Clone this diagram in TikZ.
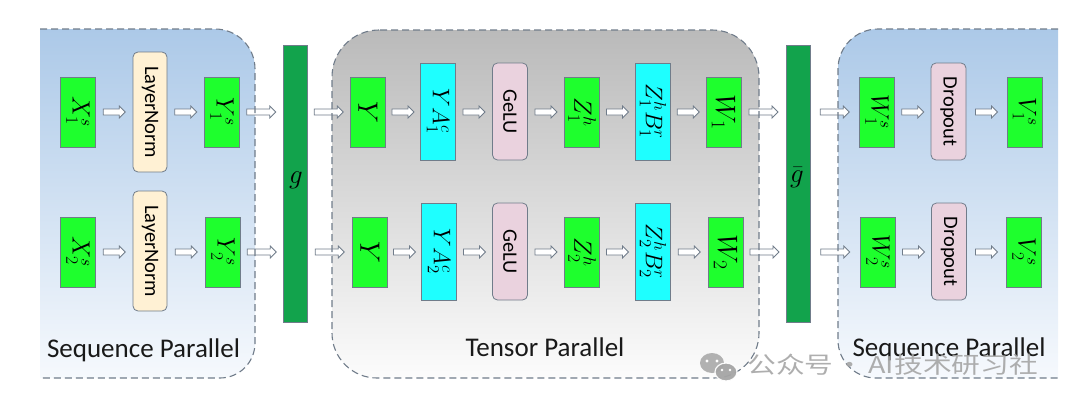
\RequirePackage{fix-cm}
\documentclass[tikz,border=0pt]{standalone}
\usepackage{graphicx}
\usepackage{fontspec}
\setmainfont{Carlito}
\newfontfamily\cjk{Noto Sans CJK SC}
\usetikzlibrary{calc}
\definecolor{boxgreen}{RGB}{30,255,45}
\definecolor{boxcyan}{RGB}{30,255,255}
\definecolor{boxpink}{RGB}{234,210,222}
\definecolor{boxcream}{RGB}{255,241,212}
\definecolor{bardark}{RGB}{18,163,76}
\definecolor{edge}{RGB}{112,124,138}
\definecolor{panelblue}{RGB}{172,201,232}
\definecolor{panelbluelight}{RGB}{246,249,253}
\definecolor{panelgray}{RGB}{186,186,186}
\definecolor{panelgraylight}{RGB}{252,252,252}
\definecolor{wmgray}{RGB}{165,165,165}
\newcommand\harrow[4]{%
  \coordinate (m) at ($(#1.east |- #3)!0.5!(#2.west |- #3)$);
  \draw[arrowline] ([shift={(-#4,3)}]m) -- ([shift={(#4-6,3)}]m) -- ([shift={(#4-6,6)}]m)
    -- ([shift={(#4,0)}]m) -- ([shift={(#4-6,-6)}]m) -- ([shift={(#4-6,-3)}]m)
    -- ([shift={(-#4,-3)}]m) -- cycle;}
\begin{document}
\begin{tikzpicture}[x=1pt,y=1pt,
  base/.style={draw=edge, line width=0.8pt, inner sep=0pt},
  gbox/.style={base, fill=boxgreen, minimum width=35pt, minimum height=70pt, font=\fontsize{25}{29}\selectfont},
  cbox/.style={base, fill=boxcyan, minimum width=35pt, minimum height=97pt, font=\fontsize{24}{28}\selectfont},
  lnbox/.style={base, fill=boxcream, rounded corners=5pt, minimum width=34pt, minimum height=120pt, font=\fontsize{20.5}{24}\selectfont},
  pbox/.style={base, fill=boxpink, rounded corners=5pt, minimum width=35pt, minimum height=97pt, font=\fontsize{20.5}{24}\selectfont},
  bar/.style={base, fill=bardark, minimum width=24pt, minimum height=277pt},
  barlabel/.style={font=\fontsize{27}{30}\selectfont, inner sep=0pt},
  big/.style={font=\fontsize{28}{32}\selectfont},
  arrowline/.style={draw=edge, line width=0.8pt, fill=white, line join=miter},
  border/.style={draw=edge, line width=1.1pt, dash pattern=on 7pt off 4pt},
  plabel/.style={font=\fontsize{27}{32}\selectfont, anchor=base, text=black!90},
]
\useasboundingbox (0,0) rectangle (1080,-415);

% panels (fills)
\shade[top color=panelblue, bottom color=panelbluelight]
  (40,-29) -- (215,-29) arc[start angle=90, end angle=0, radius=40] -- (255,-343)
  arc[start angle=0, end angle=-90, radius=35] -- (40,-378) -- cycle;
\shade[top color=panelgray, bottom color=panelgraylight]
  (380,-30) -- (712,-30) arc[start angle=90, end angle=0, radius=47] -- (759,-333)
  arc[start angle=0, end angle=-90, radius=45] -- (377,-378)
  arc[start angle=270, end angle=180, radius=45] -- (332,-77)
  arc[start angle=180, end angle=90, radius=47] -- cycle;
\shade[top color=panelblue, bottom color=panelbluelight]
  (1058,-29) -- (878,-29) arc[start angle=90, end angle=180, radius=40] -- (838,-340)
  arc[start angle=180, end angle=270, radius=38] -- (1058,-378) -- cycle;

% bars
\node[bar] (g) at (295,-183.5) {};
\node[bar] (gb) at (798,-183.5) {};
\node[barlabel] (gl) at (296,-180) {$g$};
\node[barlabel] (gbl) at (797,-178) {$\bar{g}$};

% left panel
\node[gbox] (X1) at (78,-112) {\rotatebox{-90}{$X_1^s$}};
\node[lnbox] (LN1) at (150,-112) {\rotatebox{-90}{LayerNorm}};
\node[gbox] (Ys1) at (222,-112) {\rotatebox{-90}{$Y_1^s$}};
\node[gbox] (X2) at (78,-252) {\rotatebox{-90}{$X_2^s$}};
\node[lnbox] (LN2) at (150,-251) {\rotatebox{-90}{LayerNorm}};
\node[gbox] (Ys2) at (223,-252) {\rotatebox{-90}{$Y_2^s$}};

% middle panel
\node[gbox, big] (Ym1) at (368,-112) {\rotatebox{-90}{$Y$}};
\node[cbox] (YA1) at (438,-111.5) {\rotatebox{-90}{$YA_1^c$}};
\node[pbox] (Ge1) at (510,-111.5) {\rotatebox{-90}{GeLU}};
\node[gbox] (Z1) at (582,-112) {\rotatebox{-90}{$Z_1^h$}};
\node[cbox] (ZB1) at (653,-111.5) {\rotatebox{-90}{$Z_1^hB_1^r$}};
\node[gbox, big] (W1) at (723.5,-112) {\rotatebox{-90}{$W_1$}};
\node[gbox, big] (Ym2) at (370,-252) {\rotatebox{-90}{$Y$}};
\node[cbox] (YA2) at (439,-251.5) {\rotatebox{-90}{$YA_2^c$}};
\node[pbox] (Ge2) at (510,-251.5) {\rotatebox{-90}{GeLU}};
\node[gbox] (Z2) at (582,-252) {\rotatebox{-90}{$Z_2^h$}};
\node[cbox] (ZB2) at (653,-251.5) {\rotatebox{-90}{$Z_2^hB_2^r$}};
\node[gbox, big] (W2) at (725.5,-252) {\rotatebox{-90}{$W_2$}};

% right panel
\node[gbox] (Ws1) at (877,-112) {\rotatebox{-90}{$W_1^s$}};
\node[pbox] (D1) at (948.5,-111.5) {\rotatebox{-90}{Dropout}};
\node[gbox] (Vs1) at (1024.5,-112) {\rotatebox{-90}{$V_1^s$}};
\node[gbox] (Ws2) at (878,-252) {\rotatebox{-90}{$W_2^s$}};
\node[pbox] (D2) at (949,-251.5) {\rotatebox{-90}{Dropout}};
\node[gbox] (Vs2) at (1024,-252) {\rotatebox{-90}{$V_2^s$}};

% arrows row 1
\harrow{X1}{LN1}{X1}{11}
\harrow{LN1}{Ys1}{Ys1}{11}
\harrow{Ys1}{g}{Ys1}{14.5}
\harrow{g}{Ym1}{Ym1}{14.5}
\harrow{Ym1}{YA1}{Ym1}{11}
\harrow{YA1}{Ge1}{Ym1}{11}
\harrow{Ge1}{Z1}{Z1}{11}
\harrow{Z1}{ZB1}{Z1}{11}
\harrow{ZB1}{W1}{W1}{11}
\harrow{W1}{gb}{W1}{14.5}
\harrow{gb}{Ws1}{Ws1}{14.5}
\harrow{Ws1}{D1}{Ws1}{11}
\harrow{D1}{Vs1}{Vs1}{11}
% arrows row 2
\harrow{X2}{LN2}{X2}{11}
\harrow{LN2}{Ys2}{Ys2}{11}
\harrow{Ys2}{g}{Ys2}{14.5}
\harrow{g}{Ym2}{Ym2}{14.5}
\harrow{Ym2}{YA2}{Ym2}{11}
\harrow{YA2}{Ge2}{Ym2}{11}
\harrow{Ge2}{Z2}{Z2}{11}
\harrow{Z2}{ZB2}{Z2}{11}
\harrow{ZB2}{W2}{W2}{11}
\harrow{W2}{gb}{W2}{14.5}
\harrow{gb}{Ws2}{Ws2}{14.5}
\harrow{Ws2}{D2}{Ws2}{11}
\harrow{D2}{Vs2}{Vs2}{11}

% panel borders
\draw[border] (40,-29) -- (215,-29) arc[start angle=90, end angle=0, radius=40] -- (255,-343)
  arc[start angle=0, end angle=-90, radius=35] -- (40,-378);
\draw[border] (380,-30) -- (712,-30) arc[start angle=90, end angle=0, radius=47] -- (759,-333)
  arc[start angle=0, end angle=-90, radius=45] -- (377,-378)
  arc[start angle=270, end angle=180, radius=45] -- (332,-77)
  arc[start angle=180, end angle=90, radius=47] -- cycle;
\draw[border] (1058,-29) -- (878,-29) arc[start angle=90, end angle=180, radius=40] -- (838,-340)
  arc[start angle=180, end angle=270, radius=38] -- (1058,-378);

% panel labels
\node[plabel] (sp1) at (143.5,-357) {Sequence Parallel};
\node[plabel] (tp) at (545,-356) {Tensor Parallel};
\node[plabel] (sp2) at (949,-356) {Sequence Parallel};

% watermark
\fill[wmgray, opacity=0.85] (712,-363) ellipse[x radius=12, y radius=10];
\fill[white] (707,-361) circle[radius=1.6] (717,-361) circle[radius=1.6];
\fill[wmgray, opacity=0.95, draw=white, line width=1.2pt] (726,-372) ellipse[x radius=11, y radius=9];
\fill[white] (722,-370) circle[radius=1.4] (730,-370) circle[radius=1.4];
\node[anchor=base west, text=wmgray, opacity=0.9, font=\cjk\fontsize{23}{28}\selectfont, inner sep=0pt, xscale=1.25] (wm) at (747,-373) {公众号\hspace{2pt}·\hspace{3pt}AI技术研习社};
\end{tikzpicture}
\end{document}
